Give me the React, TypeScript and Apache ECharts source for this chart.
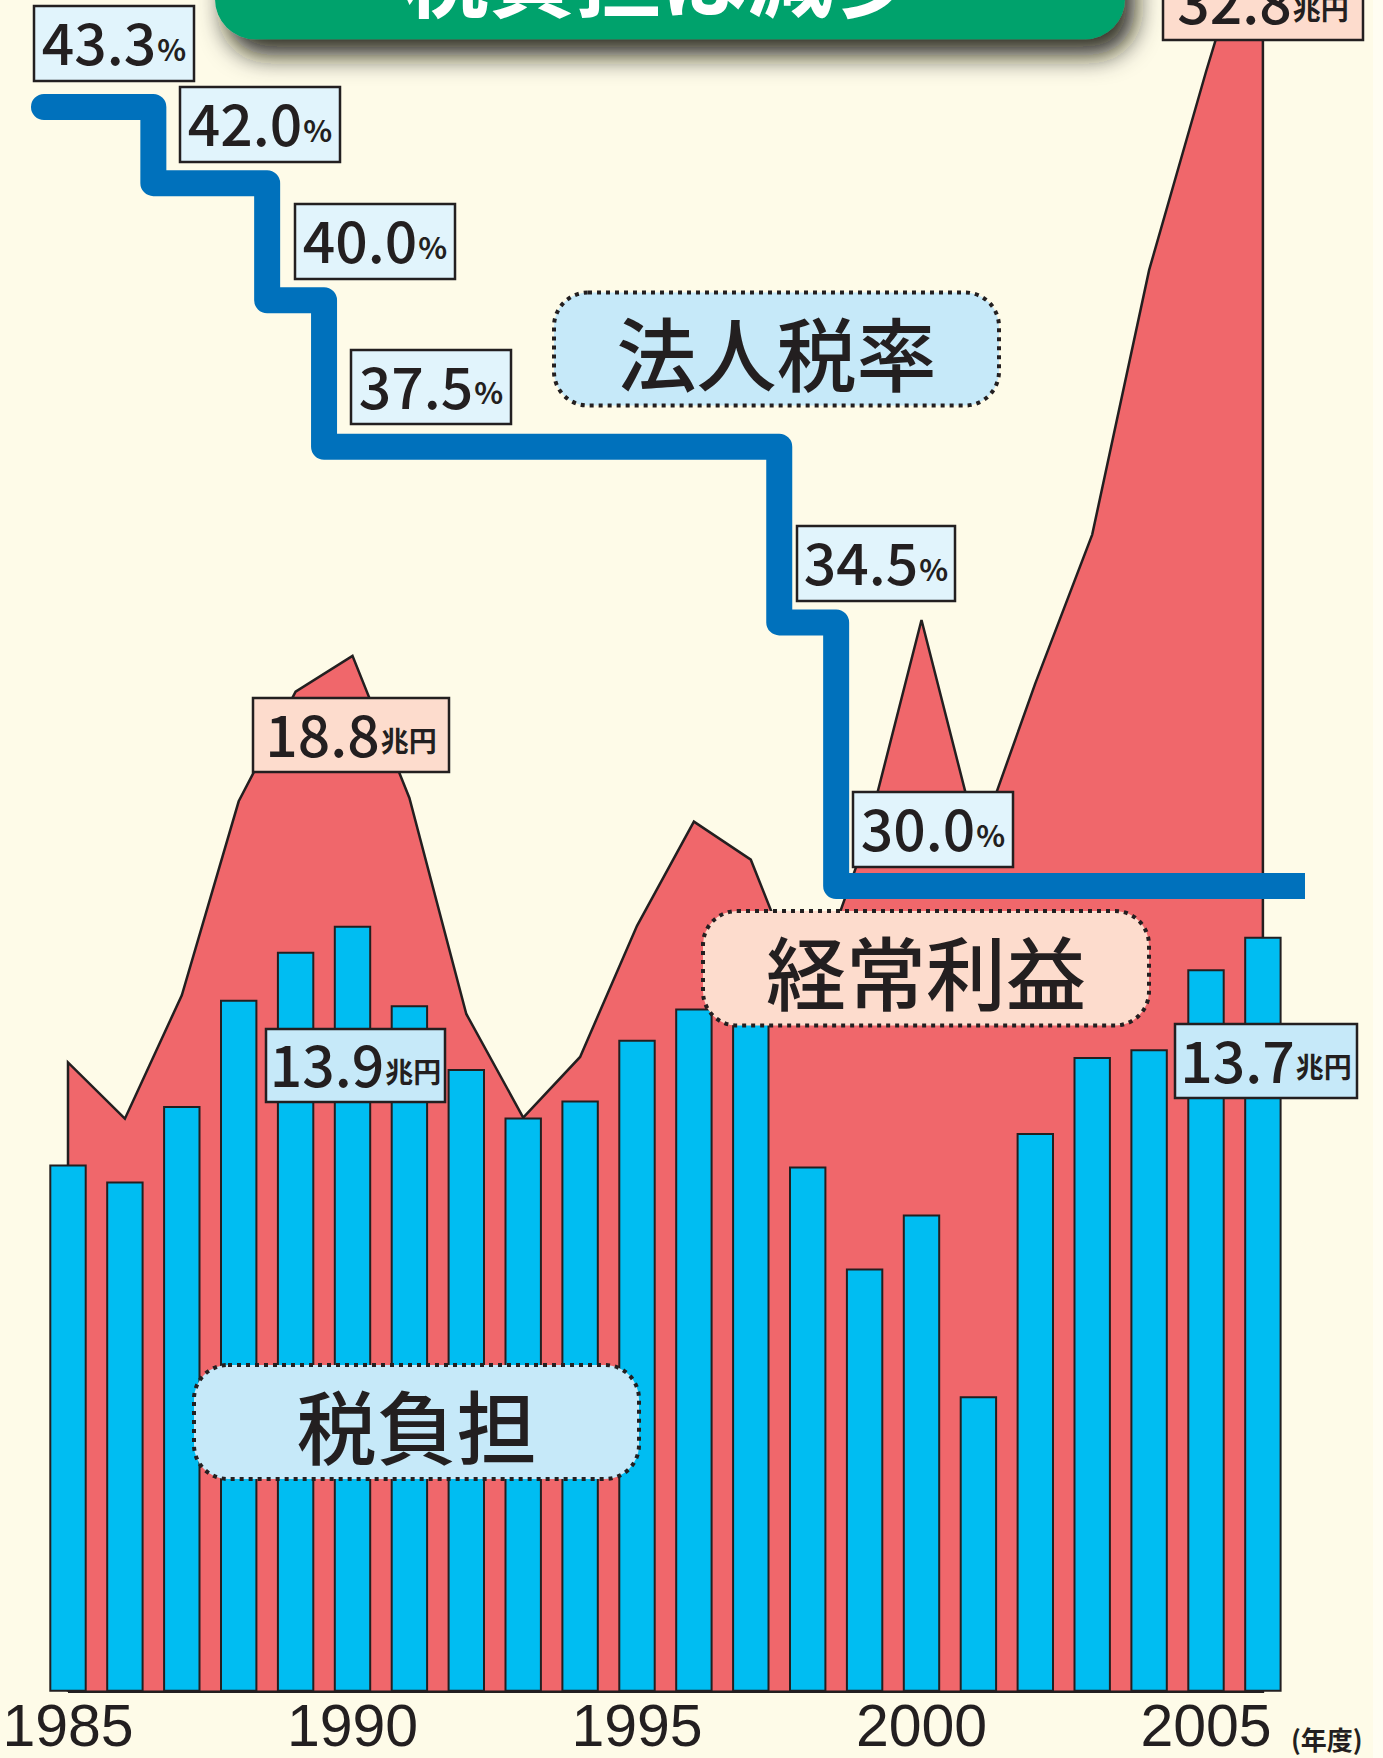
import React, { useEffect, useRef } from "react";
import * as echarts from "echarts";

// ---------------- data ----------------
const years = [
  "1985", "1986", "1987", "1988", "1989", "1990", "1991", "1992", "1993", "1994", "1995",
  "1996", "1997", "1998", "1999", "2000", "2001", "2002", "2003", "2004", "2005", "2006",
];
// 税負担 (兆円)
const taxBurden = [
  9.57, 9.26, 10.63, 12.56, 13.43, 13.9, 12.46, 11.3, 10.42, 10.73, 11.83,
  12.4, 12.2, 9.53, 7.68, 8.66, 5.36, 10.14, 11.52, 11.66, 13.11, 13.7,
];
// 経常利益 (兆円)
const ordinaryProfit = [
  11.42, 10.4, 12.64, 16.16, 18.15, 18.8, 16.22, 12.3, 10.42, 11.52, 13.9,
  15.79, 15.1, 12.5, 15.4, 19.45, 15.4, 18.3, 21.0, 25.8, 29.4, 32.8,
];
// 法人税率 (%)
const corporateTaxRate = [
  43.3, 43.3, 42.0, 42.0, 40.0, 37.5, 37.5, 37.5, 37.5, 37.5, 37.5,
  37.5, 37.5, 34.5, 30.0, 30.0, 30.0, 30.0, 30.0, 30.0, 30.0, 30.0,
];
const titleText = "税負担は減少";
const nameRate = "法人税率";
const nameProfit = "経常利益";
const nameBurden = "税負担";
const unitTrillion = "兆円";
const unitPercent = "%";
const unitYear = "(年度)";
const calloutYears = ["1990", "2006"];

// ---------------- styling / layout ----------------
const W = 1383;
const H = 1758;
const DARK = "#231F20";
const BG = "#FEFBE8";
const BAR = "#00BDF2";
const AREA = "#F0676B";
const LINE = "#0071BC";
const BOX_BLUE_LIGHT = "#E1F4FC";
const BOX_BLUE = "#C6E9F9";
const BOX_PINK = "#FDDCCD";
const JP = "'Noto Sans CJK JP', 'Noto Sans', sans-serif";
const NUM = "'Noto Sans CJK JP', 'Noto Sans', sans-serif";
const YEARFONT = "'Liberation Sans', 'Noto Sans', sans-serif";

const GRID_LEFT = 39.55;
const PITCH = 56.9;
const GRID_TOP = -181.7;
const GRID_H = 1873.4;
const Y_MAX = 34;
const RATE_MIN = 16.244;
const RATE_MAX = 48.229;
const LINE_START = 0.078;
const LINE_END = 22.24;

// rate boxes [x, y, w, h]
const rateBoxPos = [
  [34, 6, 160, 75],
  [180, 87, 160, 75],
  [295, 204, 160, 75],
  [351, 350, 160, 74],
  [797, 526, 158, 75],
  [853, 792, 160, 75],
];
const profitBoxPos = [
  [253, 698, 196, 74],
  [1163, -35, 200, 75],
];
const burdenBoxPos = [
  [266, 1029, 179, 73],
  [1175, 1024, 182, 74],
];

function valueBox(pos: number[], fill: string, num: string, unit: string, unitSize: number) {
  const [x, y, w, h] = pos;
  return {
    type: "group",
    x,
    y,
    z: 100,
    children: [
      {
        type: "rect",
        shape: { x: 0, y: 0, width: w, height: h },
        style: { fill, stroke: DARK, lineWidth: 2.5 },
        z: 100,
      },
      {
        type: "text",
        x: w / 2,
        y: h / 2 - 3,
        z: 101,
        style: {
          text: `{a|${num}}{b|${unit}}`,
          align: "center",
          verticalAlign: "middle",
          textAlign: "center",
          textVerticalAlign: "middle",
          rich: {
            a: { fontSize: 57, fontFamily: NUM, fontWeight: 500, fill: DARK, color: DARK, lineHeight: 56, verticalAlign: "bottom" },
            b: { fontSize: unitSize, fontFamily: JP, fontWeight: "bold", fill: DARK, color: DARK, lineHeight: unitSize, verticalAlign: "bottom", padding: [0, 0, 6, 1] },
          },
        },
      },
    ],
  };
}

function nameBox(x: number, y: number, w: number, h: number, fill: string, text: string) {
  return {
    type: "group",
    x,
    y,
    z: 100,
    children: [
      {
        type: "rect",
        shape: { x: 0, y: 0, width: w, height: h, r: 34 },
        style: { fill, stroke: DARK, lineWidth: 4, lineDash: [4, 5] },
        z: 100,
      },
      {
        type: "text",
        x: w / 2,
        y: h / 2 + 1,
        z: 101,
        style: {
          text,
          fill: DARK,
          fontSize: 80,
          fontFamily: JP,
          fontWeight: 500,
          align: "center",
          verticalAlign: "middle",
          textAlign: "center",
          textVerticalAlign: "middle",
        },
      },
    ],
  };
}

export default function App() {
  const ref = useRef<HTMLDivElement>(null);

  useEffect(() => {
    if (!ref.current) return;
    const chart = echarts.init(ref.current, null, { renderer: "svg" });

    // area outline (closed along the baseline)
    const profitOutline: number[][] = [[0.5, 0]];
    ordinaryProfit.forEach((v, i) => profitOutline.push([i + 0.5, v]));
    profitOutline.push([ordinaryProfit.length - 0.5, 0]);
    profitOutline.push([0.5, 0]);

    const rateData: number[][] = [[LINE_START, corporateTaxRate[0]]];
    corporateTaxRate.forEach((v, i) => rateData.push([i + 0.5, v]));
    rateData.push([LINE_END, corporateTaxRate[corporateTaxRate.length - 1]]);

    // unique consecutive rates for labels
    const rateLabels: number[] = [];
    corporateTaxRate.forEach((v, i) => {
      if (i === 0 || v !== corporateTaxRate[i - 1]) rateLabels.push(v);
    });

    const calloutIdx = calloutYears.map((y) => years.indexOf(y));

    const graphic: any[] = [
      {
        type: "rect",
        z: 0,
        shape: { x: 1373, y: 0, width: 10, height: H },
        style: { fill: "#FFFDF2" },
      },
      {
        type: "rect",
        z: 90,
        shape: { x: 215, y: -60, width: 910, height: 99.3, r: [0, 0, 40, 40] },
        style: {
          fill: "#03A26C",
          shadowBlur: 26,
          shadowOffsetX: 10,
          shadowOffsetY: 16,
          shadowColor: "rgba(25,25,15,0.9)",
        },
      },
      {
        type: "text",
        z: 91,
        x: 661,
        y: 16,
        style: {
          text: titleText,
          fill: "#FFFFFF",
          fontSize: 86,
          fontWeight: "bold",
          fontFamily: JP,
          align: "center",
          verticalAlign: "bottom",
          textAlign: "center",
          textVerticalAlign: "bottom",
        },
      },
      nameBox(554, 292.5, 445, 113, BOX_BLUE, nameRate),
      nameBox(703, 911, 446, 114.5, BOX_PINK, nameProfit),
      nameBox(194, 1365, 445, 114, BOX_BLUE, nameBurden),
      {
        type: "text",
        z: 100,
        x: 1291,
        y: 1738,
        style: {
          text: unitYear,
          fill: DARK,
          fontSize: 26,
          fontWeight: "bold",
          fontFamily: JP,
          align: "left",
          verticalAlign: "middle",
          textAlign: "left",
          textVerticalAlign: "middle",
        },
      },
    ];
    rateLabels.forEach((v, i) => {
      graphic.push(valueBox(rateBoxPos[i], BOX_BLUE_LIGHT, v.toFixed(1), unitPercent, 30));
    });
    calloutIdx.forEach((idx, i) => {
      graphic.push(valueBox(profitBoxPos[i], BOX_PINK, ordinaryProfit[idx].toFixed(1), unitTrillion, 28));
      graphic.push(valueBox(burdenBoxPos[i], BOX_BLUE, taxBurden[idx].toFixed(1), unitTrillion, 28));
    });

    chart.setOption({
      animation: false,
      backgroundColor: BG,
      grid: {
        left: GRID_LEFT,
        top: GRID_TOP,
        width: PITCH * years.length,
        height: GRID_H,
        containLabel: false,
        outerBoundsMode: "none",
      },
      xAxis: [
        {
          type: "category",
          data: years,
          boundaryGap: true,
          axisLine: { show: false },
          axisTick: { show: false },
          splitLine: { show: false },
          axisLabel: {
            interval: (index: number) => index % 5 === 0,
            fontSize: 59,
            fontFamily: YEARFONT,
            color: DARK,
            margin: 5,
          },
        },
        {
          type: "value",
          min: 0,
          max: years.length,
          show: false,
          splitLine: { show: false },
        },
      ],
      yAxis: [
        { type: "value", min: 0, max: Y_MAX, show: false, splitLine: { show: false } },
        { type: "value", min: RATE_MIN, max: RATE_MAX, show: false, splitLine: { show: false } },
      ],
      series: [
        {
          name: nameProfit,
          type: "line",
          xAxisIndex: 1,
          yAxisIndex: 0,
          data: profitOutline,
          symbol: "none",
          silent: true,
          clip: false,
          z: 1,
          lineStyle: { color: DARK, width: 2.5, join: "miter" },
          areaStyle: { color: AREA, opacity: 1 },
        },
        {
          name: nameBurden,
          type: "bar",
          xAxisIndex: 0,
          yAxisIndex: 0,
          data: taxBurden,
          barWidth: 37.4,
          silent: true,
          z: 2,
          itemStyle: { color: BAR, borderColor: DARK, borderWidth: 2 },
        },
        {
          name: nameRate,
          type: "line",
          xAxisIndex: 1,
          yAxisIndex: 1,
          step: "middle",
          data: rateData,
          symbol: "none",
          silent: true,
          clip: false,
          z: 3,
          lineStyle: { color: LINE, width: 26, cap: "round", join: "round" },
        },
      ],
      graphic,
    });

    return () => chart.dispose();
  }, []);

  return (
    <div
      ref={ref}
      style={{ position: "fixed", left: 0, top: 0, width: W, height: H }}
    />
  );
}
